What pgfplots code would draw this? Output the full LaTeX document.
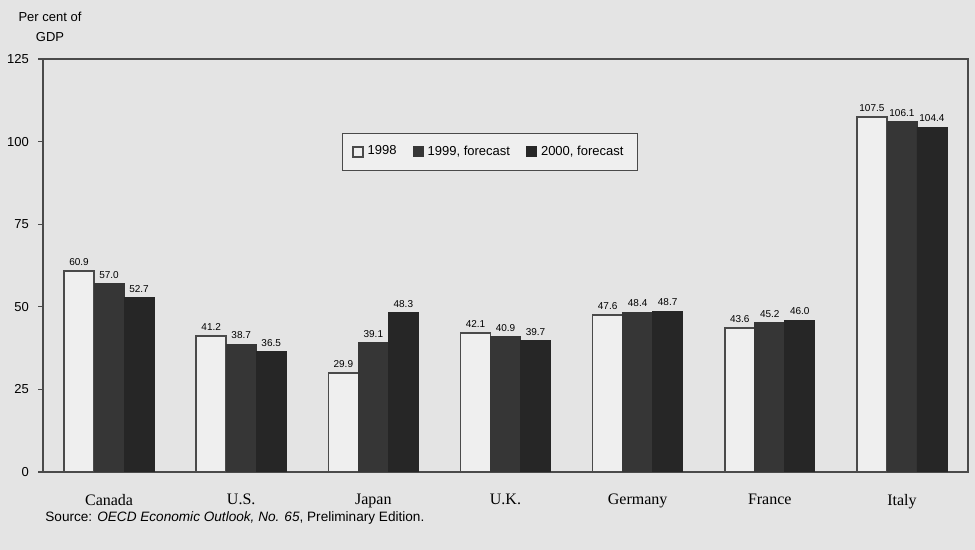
\documentclass[border=0pt]{standalone}
\usepackage{pgfplots}
\pgfplotsset{compat=1.18}
\usepackage{fontspec}
\setmainfont{Liberation Serif}
\setsansfont{Liberation Sans}

\definecolor{paper}{HTML}{E4E4E4}
\definecolor{barwhite}{HTML}{EFEFEF}
\definecolor{barmid}{HTML}{363636}
\definecolor{bardark}{HTML}{262626}
\definecolor{frame}{HTML}{4A4A4A}

\pgfplotstableread{
idx y1998 y1999 y2000
0 60.9 57.0 52.7
1 41.2 38.7 36.5
2 29.9 39.1 48.3
3 42.1 40.9 39.7
4 47.6 48.4 48.7
5 43.6 45.2 46.0
6 107.5 106.1 104.4
}\debt

\begin{document}
\begin{tikzpicture}
% page size: 975x550 px at 0.5pt per px
\fill[paper] (0,0) rectangle (487.5pt,275pt);
\path[use as bounding box] (0,0) rectangle (487.5pt,275pt);

\begin{axis}[
    at={(21.5pt,39pt)}, anchor=south west,
    scale only axis,
    width=462.5pt, height=206.5pt,
    ybar=0pt, bar width=15pt,
    xmin=-0.5, xmax=6.5,
    ymin=0, ymax=125,
    ytick={0,25,50,75,100,125},
    xtick={0,...,6},
    xticklabels={Canada,U.S.,Japan,U.K.,Germany,France,Italy},
    axis line style={frame, line width=0.6pt},
    major tick length=2.5pt,
    xtick style={draw=none},
    ytick style={frame, line width=0.6pt},
    tick align=outside,
    ytick pos=left,
    yticklabel style={font=\sffamily\fontsize{6.5}{7}\selectfont, xshift=-1pt},
    xticklabel style={font=\fontsize{8}{9}\selectfont, yshift=-5pt},
    /pgf/number format/assume math mode=true,
    nodes near coords,
    nodes near coords style={font=\sffamily\fontsize{5}{6}\selectfont, text=black, yshift=-1pt},
    every node near coord/.append style={/pgf/number format/.cd, fixed, fixed zerofill, precision=1},
    legend style={
        at={(0.483,0.775)}, anchor=center,
        draw=frame, fill=barwhite, line width=0.5pt,
        font=\sffamily\fontsize{6.5}{7}\selectfont,
        /tikz/every even column/.append style={column sep=6pt},
        inner xsep=5pt, inner ysep=4pt,
    },
    legend columns=3,
    legend image code/.code={\draw[#1] (0pt,-2.5pt) rectangle (5pt,2.5pt);},
]
\addplot[draw=frame, fill=barwhite, line width=0.8pt] table[x=idx, y=y1998] {\debt};
\addplot[draw=barmid, fill=barmid] table[x=idx, y=y1999] {\debt};
\addplot[draw=bardark, fill=bardark] table[x=idx, y=y2000] {\debt};
\legend{1998, {1999, forecast}, {2000, forecast}}
\end{axis}

\node[font=\sffamily\fontsize{6.5}{7}\selectfont, align=center] at (25pt,261.5pt) {Per cent of\\[3pt]GDP};
\node[font=\sffamily\fontsize{6.8}{7}\selectfont, anchor=west, inner sep=0pt] at (22.5pt,16pt)
  {Source: \textit{OECD Economic Outlook, No. 65}, Preliminary Edition.};
\end{tikzpicture}
\end{document}
